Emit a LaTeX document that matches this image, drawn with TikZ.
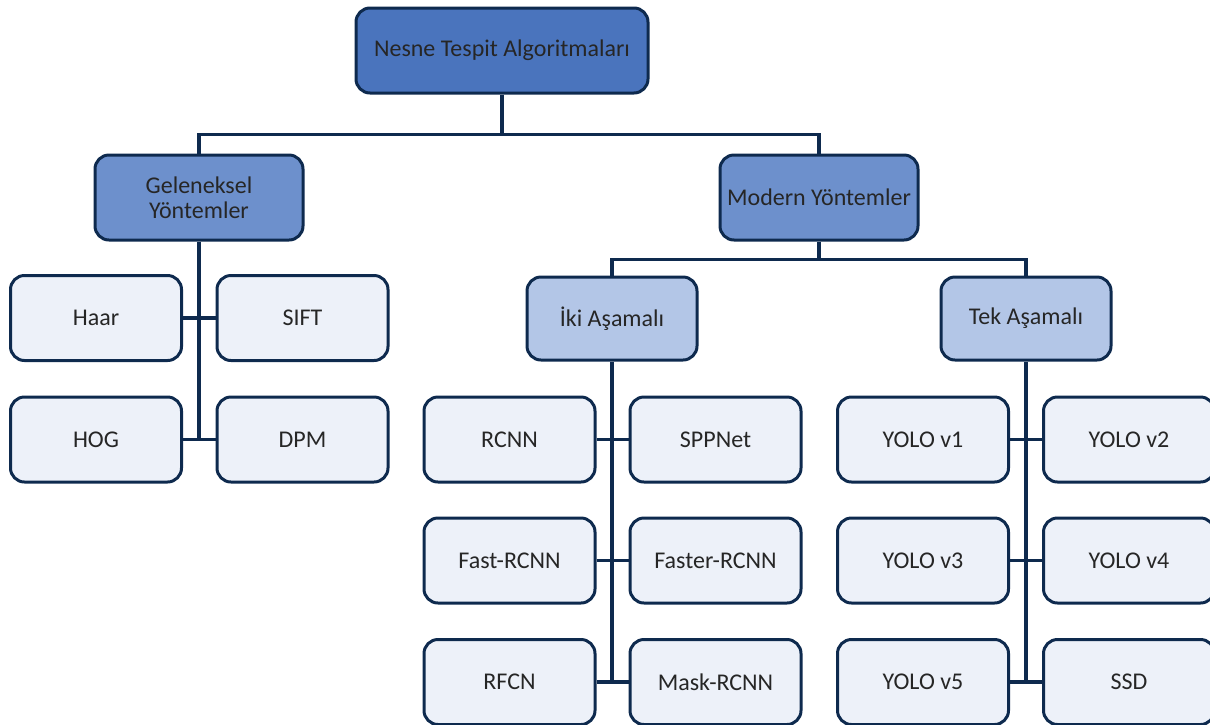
\documentclass[tikz,border=0pt]{standalone}
\usepackage{fontspec}
\setmainfont{Carlito}
\usetikzlibrary{backgrounds}
\definecolor{edge}{HTML}{0E2A4E}
\definecolor{lvlA}{HTML}{4A74BD}
\definecolor{lvlB}{HTML}{6D90CC}
\definecolor{lvlC}{HTML}{B3C6E7}
\definecolor{leaf}{HTML}{EDF1F9}
\definecolor{ink}{HTML}{262626}
\tikzset{
  box/.style={draw=edge, line width=3pt, rounded corners=14pt, text=ink,
    font=\fontsize{24}{25}\selectfont, align=center, inner sep=0pt},
  rootbox/.style={box, fill=lvlA, minimum width=292pt, minimum height=85pt},
  midbox/.style={box, fill=lvlB, minimum height=85pt},
  subbox/.style={box, fill=lvlC, minimum width=170pt, minimum height=83pt},
  leafbox/.style={box, fill=leaf, minimum width=171pt, minimum height=85pt},
  wire/.style={draw=edge, line width=3.4pt}
}
\begin{document}
\begin{tikzpicture}[x=1pt,y=1pt]
\useasboundingbox (0,0) rectangle (1210,-724);

% top level
\node[rootbox] (root) at (502,-50.5) {Nesne Tespit Algoritmaları};

% second level
\node[midbox, minimum width=208pt] (gel) at (199,-197.5) {Geleneksel\\Yöntemler};
\node[midbox, minimum width=198pt] (mod) at (819,-197.5) {Modern Yöntemler};

% third level
\node[subbox] (iki) at (612,-318.5) {İki Aşamalı};
\node[subbox] (tek) at (1026,-318.5) {Tek Aşamalı};

% traditional methods
\node[leafbox] (haar) at (96,-318) {Haar};
\node[leafbox] (sift) at (302.5,-318) {SIFT};
\node[leafbox] (hog)  at (96,-439.5) {HOG};
\node[leafbox] (dpm)  at (302.5,-439.5) {DPM};

% two-stage detectors
\node[leafbox] (rcnn)   at (509.5,-439.5) {RCNN};
\node[leafbox] (spp)    at (715.5,-439.5) {SPPNet};
\node[leafbox] (fast)   at (509.5,-560.5) {Fast-RCNN};
\node[leafbox] (faster) at (715.5,-560.5) {Faster-RCNN};
\node[leafbox] (rfcn)   at (509.5,-682) {RFCN};
\node[leafbox] (mask)   at (715.5,-682) {Mask-RCNN};

% one-stage detectors
\node[leafbox] (y1)  at (923,-439.5) {YOLO v1};
\node[leafbox] (y2)  at (1129,-439.5) {YOLO v2};
\node[leafbox] (y3)  at (923,-560.5) {YOLO v3};
\node[leafbox] (y4)  at (1129,-560.5) {YOLO v4};
\node[leafbox] (y5)  at (923,-682) {YOLO v5};
\node[leafbox] (ssd) at (1129,-682) {SSD};

% connectors, kept behind the boxes
\begin{scope}[on background layer]
\draw[wire] (root.south) -- ++(0,-40) coordinate (bus1);
\draw[wire] (gel.north) |- (bus1) -| (mod.north);
\draw[wire] (mod.south) -- ++(0,-18) coordinate (bus2);
\draw[wire] (iki.north) |- (bus2) -| (tek.north);

\draw[wire] (gel.south) -- (gel.south |- hog.east);
\draw[wire] (haar.east) -- (sift.west);
\draw[wire] (hog.east) -- (dpm.west);

\draw[wire] (iki.south) -- (iki.south |- rfcn.east);
\draw[wire] (rcnn.east) -- (spp.west);
\draw[wire] (fast.east) -- (faster.west);
\draw[wire] (rfcn.east) -- (mask.west);

\draw[wire] (tek.south) -- (tek.south |- y5.east);
\draw[wire] (y1.east) -- (y2.west);
\draw[wire] (y3.east) -- (y4.west);
\draw[wire] (y5.east) -- (ssd.west);
\end{scope}
\end{tikzpicture}
\end{document}
